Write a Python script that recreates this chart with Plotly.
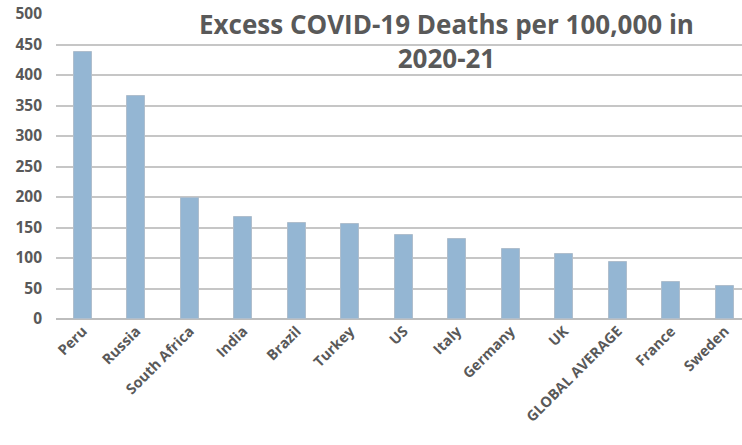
import plotly.graph_objects as go

categories = ["Peru", "Russia", "South Africa", "India", "Brazil", "Turkey", "US",
              "Italy", "Germany", "UK", "GLOBAL AVERAGE", "France", "Sweden"]
deaths = [437, 365, 198, 167, 158, 155, 138, 131, 114, 106, 93, 60, 54]
y_ticks = [0, 50, 100, 150, 200, 250, 300, 350, 400, 450, 500]
title_text = "Excess COVID-19 Deaths per 100,000 in<br>2020-21"

W, H = 742, 445
ml, mr, mt, mb = 56, 0, 14, 125.5
plot_w = W - ml - mr
step = 53.5
x_max = -0.5 + plot_w / step

fig = go.Figure()
fig.add_trace(go.Bar(
    x=categories, y=deaths,
    width=0.33,
    marker=dict(color="rgb(148,182,211)", line=dict(color="rgb(175,190,205)", width=1)),
))

font_family = "Open Sans, DejaVu Sans, sans-serif"
fig.update_layout(
    width=W, height=H,
    margin=dict(l=ml, r=mr, t=mt, b=mb, autoexpand=False),
    paper_bgcolor="white", plot_bgcolor="white",
    showlegend=False,
    font=dict(family=font_family, color="#595959"),
    bargap=0,
)
fig.update_xaxes(
    range=[-0.5, x_max],
    tickangle=-45,
    tickfont=dict(size=14.5, family=font_family, weight="bold", color="#595959"),
    showgrid=False, showline=False, ticks="",
)
fig.update_yaxes(
    range=[0, 500],
    tickvals=y_ticks,
    tickfont=dict(size=15.5, family=font_family, weight="bold", color="#595959"),
    showgrid=True, gridcolor="#c6c6c6", gridwidth=2,
    zeroline=True, zerolinecolor="#bdbdbd", zerolinewidth=2,
    ticklabelstandoff=13,
    showline=False, ticks="",
)
fig.add_annotation(
    text=title_text, xref="paper", yref="paper",
    x=(446 - ml) / plot_w, y=1 - (41.5 - mt) / (H - mt - mb),
    xanchor="center", yanchor="middle", showarrow=False,
    font=dict(size=26, family=font_family, weight="bold", color="#595959"),
    bgcolor="rgba(0,0,0,0)",
)
fig.write_html("out.html")
